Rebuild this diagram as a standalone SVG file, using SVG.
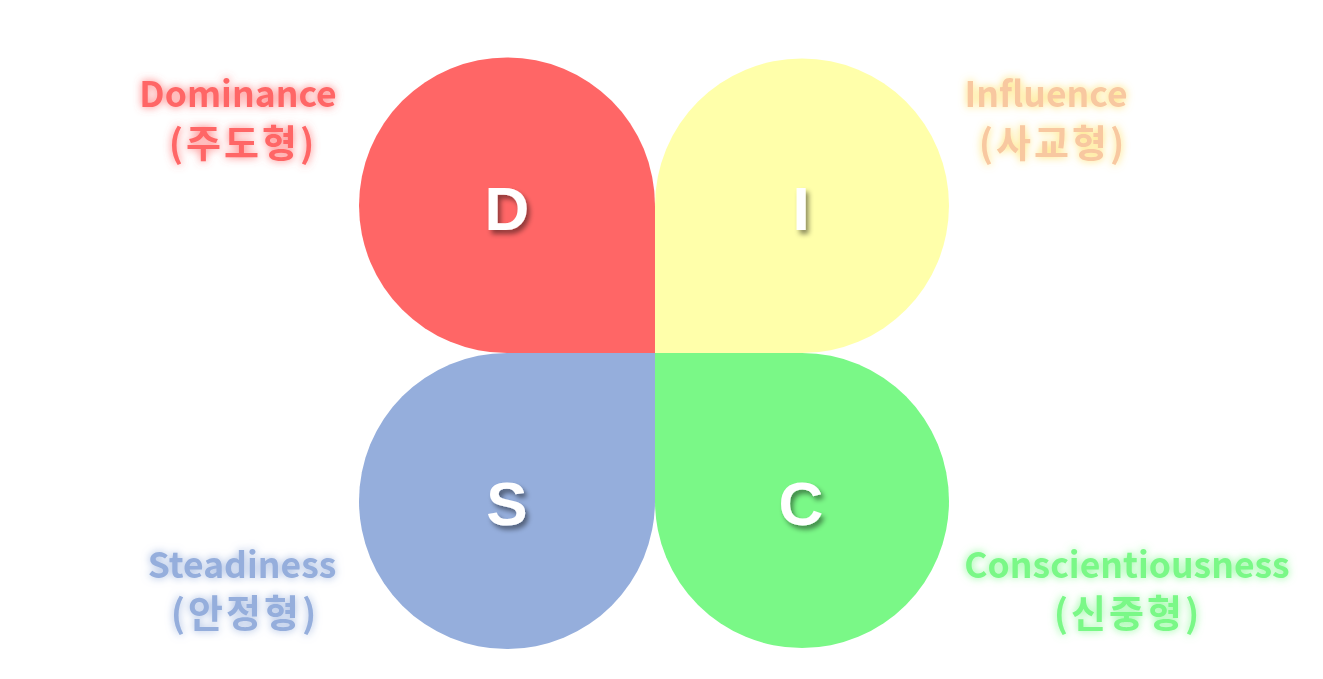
<svg xmlns="http://www.w3.org/2000/svg" width="1323" height="679" viewBox="0 0 1323 679">
<style>
.lbl{font-family:"Noto Sans CJK KR","Liberation Sans",sans-serif;font-weight:bold;font-size:35.5px;text-anchor:middle}
.kr{font-size:38px;letter-spacing:3px}
.ltr{font-family:"Liberation Sans","Noto Sans",sans-serif;font-weight:bold;font-size:62px;fill:#fff;text-anchor:middle;filter:url(#sh)}
</style>
<defs>
<filter id="sh" x="-50%" y="-50%" width="200%" height="200%">
<feGaussianBlur in="SourceAlpha" stdDeviation="2.5"/><feOffset dx="3" dy="4" result="b"/>
<feFlood flood-color="#000" flood-opacity="0.45"/><feComposite in2="b" operator="in"/>
<feMerge><feMergeNode/><feMergeNode in="SourceGraphic"/></feMerge>
</filter>
<filter id="gR" x="-20%" y="-50%" width="140%" height="200%">
<feGaussianBlur in="SourceAlpha" stdDeviation="4.5" result="b"/><feFlood flood-color="#FF6666" flood-opacity="0.9"/><feComposite in2="b" operator="in"/>
<feMerge><feMergeNode/><feMergeNode in="SourceGraphic"/></feMerge></filter>
<filter id="gY" x="-20%" y="-50%" width="140%" height="200%">
<feGaussianBlur in="SourceAlpha" stdDeviation="4.5" result="b"/><feFlood flood-color="#FFE066" flood-opacity="1"/><feComposite in2="b" operator="in"/>
<feMerge><feMergeNode/><feMergeNode in="SourceGraphic"/></feMerge></filter>
<filter id="gB" x="-20%" y="-50%" width="140%" height="200%">
<feGaussianBlur in="SourceAlpha" stdDeviation="4.5" result="b"/><feFlood flood-color="#95AEDC" flood-opacity="0.9"/><feComposite in2="b" operator="in"/>
<feMerge><feMergeNode/><feMergeNode in="SourceGraphic"/></feMerge></filter>
<filter id="gG" x="-20%" y="-50%" width="140%" height="200%">
<feGaussianBlur in="SourceAlpha" stdDeviation="4.5" result="b"/><feFlood flood-color="#7AF887" flood-opacity="0.9"/><feComposite in2="b" operator="in"/>
<feMerge><feMergeNode/><feMergeNode in="SourceGraphic"/></feMerge></filter>
</defs>
<rect width="1323" height="679" fill="#fff"/>
<g id="node-D">
<path d="M655,353 H507 A148,147.5 0 0 1 359,205.5 A140,140 0 0 1 655,205.5 Z" fill="#FF6666"/>
<text class="ltr" x="507" y="230">D</text>
<g filter="url(#gR)" fill="#FF6666"><text class="lbl" x="238" y="107">Dominance</text><text class="lbl kr" x="243" y="157">(주도형)</text></g>
</g>
<g id="node-I">
<path d="M655,353 H802 A147,147.5 0 0 0 949,205.5 A140,140 0 0 0 655,205.5 Z" fill="#FFFFAA"/>
<text class="ltr" x="801" y="230">I</text>
<g filter="url(#gY)" fill="#F8C8A0"><text class="lbl" x="1046" y="107">Influence</text><text class="lbl kr" x="1053" y="157">(사교형)</text></g>
</g>
<g id="node-S">
<path d="M655,353 H507 A148,148 0 0 0 359,501 A140,140 0 0 0 655,501 Z" fill="#95AEDC"/>
<text class="ltr" x="507" y="525">S</text>
<g filter="url(#gB)" fill="#95AEDC"><text class="lbl" x="242" y="578">Steadiness</text><text class="lbl kr" x="245" y="627">(안정형)</text></g>
</g>
<g id="node-C">
<path d="M655,353 H802 A147,148 0 0 1 949,501 A140,140 0 0 1 655,501 Z" fill="#7AF887"/>
<text class="ltr" x="801" y="525">C</text>
<g filter="url(#gG)" fill="#7AF887"><text class="lbl" x="1127" y="578">Conscientiousness</text><text class="lbl kr" x="1128" y="627">(신중형)</text></g>
</g>
<g id="connectors"/>
</svg>
